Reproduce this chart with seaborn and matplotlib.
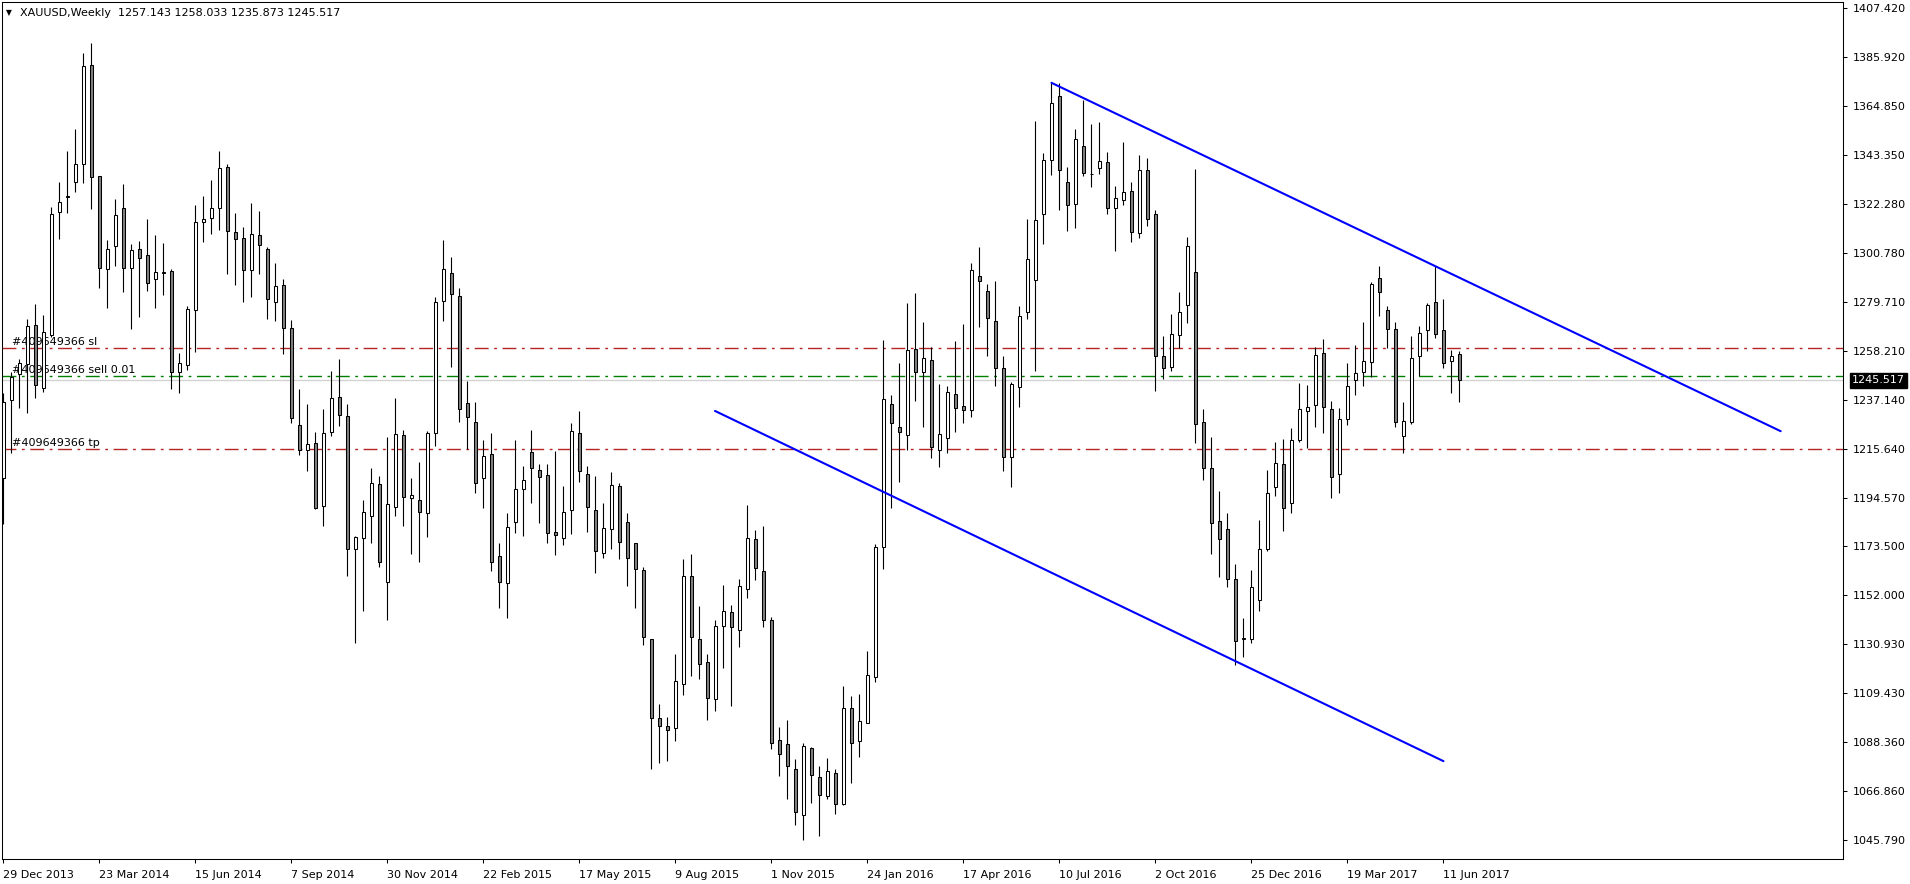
import numpy as np
import pandas as pd
import matplotlib
matplotlib.use("Agg")
import matplotlib.pyplot as plt
import matplotlib.transforms as mtransforms
import seaborn as sns

# ---------------- data (weekly XAUUSD candles, first bar = week of 29 Dec 2013) ----------------
opens = [1203.0, 1237.0, 1248.3, 1252.5, 1269.4, 1242.0, 1265.2, 1318.5, 1325.0, 1331.9,
         1339.4, 1382.5, 1334.3, 1293.8, 1303.8, 1320.3, 1294.2, 1302.4, 1299.8, 1289.4,
         1292.2, 1292.9, 1249.3, 1252.2, 1275.9, 1314.2, 1315.9, 1320.3, 1338.1, 1309.8,
         1307.2, 1293.3, 1308.5, 1302.4, 1279.4, 1286.8, 1268.1, 1225.9, 1215.1, 1218.1,
         1191.0, 1222.9, 1238.4, 1229.8, 1172.1, 1176.8, 1186.4, 1200.3, 1157.7, 1190.3,
         1221.6, 1194.5, 1193.7, 1187.7, 1222.4, 1279.8, 1292.0, 1282.0, 1235.5, 1227.2,
         1202.9, 1213.3, 1169.0, 1157.3, 1183.8, 1198.1, 1214.2, 1206.5, 1204.2, 1179.4,
         1176.8, 1189.1, 1222.7, 1204.6, 1189.0, 1170.3, 1180.7, 1199.4, 1183.8, 1174.7,
         1162.9, 1132.9, 1098.6, 1095.1, 1094.3, 1113.4, 1160.3, 1132.9, 1122.9, 1106.9,
         1138.6, 1144.7, 1136.8, 1154.7, 1176.4, 1162.8, 1141.2, 1089.4, 1087.6, 1076.4,
         1056.5, 1085.6, 1072.9, 1065.0, 1074.7, 1061.5, 1103.3, 1088.6, 1096.8, 1116.4,
         1172.9, 1235.1, 1225.4, 1221.6, 1259.1, 1249.0, 1254.2, 1215.2, 1220.3, 1239.4,
         1234.2, 1232.4, 1290.7, 1284.2, 1271.1, 1250.7, 1212.0, 1242.4, 1275.0, 1288.9,
         1317.9, 1341.1, 1368.9, 1331.5, 1322.0, 1347.2, 1335.2, 1337.6, 1340.2, 1320.2,
         1323.7, 1327.6, 1309.4, 1336.8, 1317.6, 1256.2, 1251.1, 1265.1, 1278.1, 1292.4,
         1227.2, 1207.3, 1184.4, 1180.7, 1159.0, 1133.2, 1133.2, 1149.9, 1172.1, 1199.0,
         1209.0, 1192.0, 1219.4, 1232.0, 1234.6, 1257.2, 1232.9, 1204.9, 1228.9, 1245.5,
         1249.0, 1253.3, 1289.8, 1275.9, 1267.7, 1221.2, 1227.5, 1256.2, 1267.2, 1279.4,
         1267.2, 1253.8, 1257.143]

highs = [1239.9, 1249.0, 1254.6, 1272.0, 1278.7, 1273.9, 1320.7, 1331.6, 1345.2, 1354.7,
         1387.6, 1392.0, 1334.5, 1306.5, 1324.3, 1330.8, 1304.6, 1306.1, 1315.5, 1308.7,
         1305.1, 1293.8, 1257.3, 1277.8, 1321.7, 1325.6, 1332.6, 1345.2, 1339.5, 1318.2,
         1312.0, 1322.6, 1319.1, 1303.3, 1296.4, 1289.4, 1271.6, 1241.7, 1235.2, 1222.9,
         1232.9, 1249.6, 1254.8, 1235.1, 1178.0, 1193.5, 1207.3, 1203.9, 1221.0, 1237.9,
         1223.9, 1203.2, 1209.8, 1223.4, 1281.8, 1306.5, 1299.2, 1285.5, 1245.2, 1236.1,
         1219.6, 1222.8, 1174.8, 1187.7, 1219.6, 1208.2, 1223.9, 1209.1, 1209.1, 1214.8,
         1199.6, 1226.8, 1232.2, 1208.3, 1203.9, 1192.0, 1205.7, 1200.7, 1187.7, 1174.7,
         1164.4, 1132.9, 1104.8, 1099.2, 1126.4, 1167.7, 1169.9, 1147.4, 1126.4, 1141.3,
         1156.5, 1147.9, 1159.2, 1191.3, 1180.4, 1182.4, 1142.5, 1095.0, 1097.9, 1080.8,
         1088.1, 1086.0, 1077.8, 1081.3, 1076.6, 1112.6, 1108.5, 1109.3, 1127.9, 1174.2,
         1263.0, 1239.3, 1253.1, 1279.3, 1283.3, 1270.8, 1259.9, 1243.9, 1243.0, 1262.6,
         1269.8, 1296.3, 1303.3, 1287.4, 1288.7, 1256.1, 1244.6, 1277.8, 1315.6, 1358.2,
         1344.3, 1374.8, 1374.8, 1338.2, 1354.6, 1367.3, 1356.9, 1357.8, 1344.7, 1329.9,
         1349.0, 1331.5, 1343.4, 1342.0, 1319.4, 1264.8, 1274.2, 1283.7, 1307.6, 1337.2,
         1232.9, 1220.7, 1197.4, 1187.7, 1165.5, 1142.1, 1163.1, 1184.8, 1206.5, 1218.6,
         1220.0, 1224.6, 1244.2, 1243.5, 1259.9, 1263.5, 1236.4, 1233.3, 1252.9, 1260.7,
         1270.7, 1288.1, 1295.2, 1277.8, 1270.7, 1236.0, 1264.6, 1269.1, 1279.3, 1295.2,
         1280.7, 1258.7, 1258.033]

lows = [1183.0, 1213.8, 1233.6, 1231.2, 1237.7, 1240.3, 1264.5, 1307.1, 1318.4, 1327.5,
        1331.4, 1320.1, 1285.5, 1277.1, 1295.2, 1284.0, 1268.0, 1273.2, 1284.5, 1277.1,
        1282.6, 1241.8, 1240.2, 1250.0, 1258.0, 1305.8, 1309.1, 1310.8, 1291.9, 1287.1,
        1279.7, 1281.9, 1291.9, 1272.3, 1271.4, 1256.8, 1227.1, 1213.2, 1206.2, 1189.4,
        1182.3, 1221.5, 1225.8, 1160.6, 1131.5, 1145.4, 1174.7, 1164.5, 1141.3, 1186.5,
        1182.3, 1170.1, 1166.7, 1177.5, 1217.1, 1271.4, 1251.4, 1227.5, 1215.5, 1196.7,
        1189.9, 1162.8, 1146.7, 1142.1, 1179.0, 1178.0, 1192.0, 1183.3, 1174.6, 1169.8,
        1174.0, 1178.6, 1201.2, 1179.7, 1161.9, 1168.4, 1172.3, 1168.0, 1156.3, 1146.7,
        1130.6, 1076.7, 1079.3, 1080.2, 1088.9, 1108.7, 1117.1, 1115.8, 1098.0, 1101.9,
        1120.6, 1104.1, 1129.7, 1151.0, 1158.6, 1138.5, 1085.2, 1073.4, 1063.4, 1052.1,
        1045.7, 1062.0, 1047.3, 1063.4, 1057.1, 1061.1, 1070.5, 1081.6, 1096.5, 1114.5,
        1163.5, 1190.0, 1201.4, 1215.3, 1236.6, 1225.4, 1211.7, 1207.7, 1214.0, 1223.2,
        1226.8, 1229.7, 1268.5, 1256.2, 1243.2, 1206.2, 1199.3, 1234.0, 1272.0, 1249.7,
        1304.9, 1334.7, 1319.7, 1310.5, 1311.8, 1334.4, 1329.7, 1335.3, 1317.6, 1301.8,
        1321.7, 1305.8, 1307.2, 1312.7, 1241.0, 1245.9, 1249.7, 1259.4, 1270.6, 1218.4,
        1202.2, 1170.0, 1160.2, 1155.8, 1121.8, 1125.1, 1131.2, 1145.4, 1171.3, 1195.4,
        1180.2, 1187.7, 1218.8, 1216.2, 1225.4, 1222.5, 1194.5, 1196.7, 1226.1, 1239.3,
        1243.2, 1246.8, 1273.6, 1259.4, 1225.4, 1213.8, 1226.4, 1247.4, 1258.4, 1264.1,
        1251.0, 1240.2, 1235.873]

closes = [1236.2, 1247.1, 1252.9, 1269.2, 1243.4, 1266.7, 1317.7, 1323.2, 1325.6, 1339.4,
          1382.1, 1333.9, 1294.2, 1302.4, 1317.2, 1294.5, 1302.2, 1298.5, 1287.7, 1292.5,
          1292.4, 1249.0, 1252.9, 1276.4, 1314.2, 1315.5, 1320.3, 1337.6, 1310.3, 1306.8,
          1293.3, 1308.9, 1304.2, 1280.7, 1286.5, 1268.1, 1229.0, 1215.2, 1217.7, 1190.2,
          1222.5, 1237.7, 1230.3, 1172.1, 1177.3, 1188.1, 1200.7, 1166.7, 1191.6, 1222.1,
          1194.9, 1195.5, 1188.1, 1222.4, 1279.4, 1293.7, 1282.9, 1232.9, 1229.4, 1200.7,
          1212.5, 1166.4, 1157.7, 1181.6, 1198.1, 1202.0, 1207.2, 1203.6, 1179.0, 1178.1,
          1188.1, 1223.6, 1205.9, 1190.3, 1171.2, 1181.2, 1199.9, 1175.1, 1168.1, 1163.4,
          1133.8, 1098.6, 1095.1, 1093.4, 1114.7, 1160.3, 1133.8, 1122.1, 1107.3, 1138.6,
          1145.1, 1138.1, 1156.0, 1176.8, 1163.8, 1141.5, 1088.1, 1082.9, 1077.7, 1057.7,
          1086.4, 1074.2, 1065.5, 1075.9, 1061.5, 1103.3, 1088.1, 1097.3, 1117.6, 1172.9,
          1237.6, 1226.8, 1222.9, 1258.6, 1249.0, 1255.1, 1216.4, 1222.0, 1240.3, 1233.3,
          1232.4, 1293.3, 1288.7, 1272.4, 1250.7, 1212.0, 1243.7, 1273.3, 1298.1, 1315.0,
          1341.1, 1365.9, 1336.7, 1321.5, 1350.2, 1335.4, 1335.0, 1340.7, 1320.2, 1324.6,
          1327.2, 1309.8, 1336.8, 1315.5, 1256.2, 1250.7, 1265.5, 1275.1, 1303.7, 1226.4,
          1207.3, 1183.4, 1176.4, 1159.0, 1132.1, 1133.5, 1155.5, 1172.1, 1196.4, 1209.4,
          1189.9, 1219.4, 1232.9, 1233.8, 1256.4, 1233.8, 1203.6, 1228.6, 1242.9, 1248.6,
          1253.8, 1287.4, 1283.8, 1267.7, 1227.3, 1227.7, 1255.1, 1265.9, 1278.1, 1265.5,
          1252.9, 1255.9, 1245.517]

x_tick_bars = [0, 12, 24, 36, 48, 60, 72, 84, 96, 108, 120, 132, 144, 156, 168, 180]
x_tick_labels = ["29 Dec 2013", "23 Mar 2014", "15 Jun 2014", "7 Sep 2014",
                 "30 Nov 2014", "22 Feb 2015", "17 May 2015", "9 Aug 2015",
                 "1 Nov 2015", "24 Jan 2016", "17 Apr 2016", "10 Jul 2016",
                 "2 Oct 2016", "25 Dec 2016", "19 Mar 2017", "11 Jun 2017"]
y_tick_values = [1407.420, 1385.920, 1364.850, 1343.350, 1322.280, 1300.780,
                 1279.710, 1258.210, 1237.140, 1215.640, 1194.570, 1173.500,
                 1152.000, 1130.930, 1109.430, 1088.360, 1066.860, 1045.790]

sl_price = 1259.4
entry_price = 1247.3
bid_price = 1245.517
tp_price = 1215.5
order_labels = ["#409649366 sl", "#409649366 sell 0.01", "#409649366 tp"]

upper_trend_bars = [131.0, 222.15]
upper_trend_prices = [1374.8, 1223.4]
lower_trend_bars = [88.94, 180.0]
lower_trend_prices = [1232.2, 1080.0]

title_text = "XAUUSD,Weekly  1257.143 1258.033 1235.873 1245.517"

# ---------------- styling ----------------
sns.set_theme(style="white", rc={
    "axes.edgecolor": "black", "text.color": "black", "xtick.color": "black",
    "ytick.color": "black", "axes.labelcolor": "black", "axes.linewidth": 0.75,
    "lines.scale_dashes": False,
})
plt.rcParams["font.family"] = ["DejaVu Sans"]

W, H = 1910, 884
fig = plt.figure(figsize=(W / 100, H / 100), dpi=100)
fig.patch.set_facecolor("white")
ax_l, ax_r, ax_t, ax_b = 2.3, 1843.0, 1.7, 859.0
ax = fig.add_axes([ax_l / W, 1 - ax_b / H, (ax_r - ax_l) / W, (ax_b - ax_t) / H])
ax.set_facecolor("white")

df = pd.DataFrame({"bar": np.arange(len(opens)), "open": opens, "high": highs,
                   "low": lows, "close": closes})
df["bottom"] = df[["open", "close"]].min(axis=1)
df["height"] = (df["close"] - df["open"]).abs()
bull = df[df["close"] >= df["open"]]
bear = df[df["close"] < df["open"]]

# order / price lines (behind candles)
dash_dot = (10, 4, 2, 4)
ax.axhline(sl_price, color="#B52525", lw=1.0, dashes=dash_dot, zorder=1)
ax.axhline(tp_price, color="#B52525", lw=1.0, dashes=dash_dot, zorder=1)
ax.axhline(entry_price, color="#008000", lw=1.0, dashes=dash_dot, zorder=1)
ax.axhline(bid_price, color="#D3D3D3", lw=1.0, zorder=1)

blend = mtransforms.blended_transform_factory(ax.transAxes, ax.transData)
for txt, price in zip(order_labels, [sl_price, entry_price, tp_price]):
    ax.annotate(txt, xy=(0, price), xycoords=blend, xytext=(7, 4.6),
                textcoords="offset points", fontsize=8, ha="left", va="center",
                color="black", zorder=2)

# candles
ax.vlines(df["bar"], df["low"], df["high"], color="black", linewidth=0.8, zorder=3)
body_w = 0.44
ax.bar(bull["bar"], bull["height"], bottom=bull["bottom"], width=body_w,
       facecolor="white", edgecolor="black", linewidth=0.75, zorder=4)
ax.bar(bear["bar"], bear["height"], bottom=bear["bottom"], width=body_w,
       facecolor="#808080", edgecolor="black", linewidth=0.75, zorder=4)

# trend lines
sns.lineplot(x=upper_trend_bars, y=upper_trend_prices, color="#0000FF",
             linewidth=1.5, ax=ax, zorder=5, legend=False)
sns.lineplot(x=lower_trend_bars, y=lower_trend_prices, color="#0000FF",
             linewidth=1.5, ax=ax, zorder=5, legend=False)

# axes limits
ax.set_xlim(-0.15, 229.94)
ax.set_ylim(1037.48, 1410.05)
ax.set_xlabel("")
ax.set_ylabel("")

# y axis on right
ax.yaxis.tick_right()
ax.set_yticks(y_tick_values)
ax.set_yticklabels([f"{v:.3f}" for v in y_tick_values])
ax.tick_params(axis="y", which="both", left=False, right=True, direction="out",
               length=3.2, width=0.75, pad=4.2, labelsize=8, labelcolor="black")

# x axis ticks
ax.set_xticks(x_tick_bars)
ax.set_xticklabels(x_tick_labels)
for lab in ax.get_xticklabels():
    lab.set_horizontalalignment("left")
ax.tick_params(axis="x", which="both", bottom=True, top=False, direction="out",
               length=3.2, width=0.75, pad=5, labelsize=8, labelcolor="black")

for side in ["left", "right", "top", "bottom"]:
    ax.spines[side].set_visible(True)
    ax.spines[side].set_color("black")
    ax.spines[side].set_linewidth(0.75)

# current price marker on the axis
ax.annotate(f"{bid_price:.3f}", xy=(1.0, bid_price), xycoords=blend,
            xytext=(6.4, 0), textcoords="offset points", fontsize=8,
            ha="left", va="center", color="white", annotation_clip=False,
            bbox=dict(boxstyle="square,pad=0.2", fc="black", ec="black"))

# title
fig.text(6 / W, 1 - 12.5 / H, "\u25BC", fontsize=5.5, ha="left", va="center", color="black")
fig.text(20.5 / W, 1 - 12.5 / H, title_text, fontsize=8, ha="left", va="center", color="black")

fig.savefig("out.png", dpi=100, facecolor="white")
